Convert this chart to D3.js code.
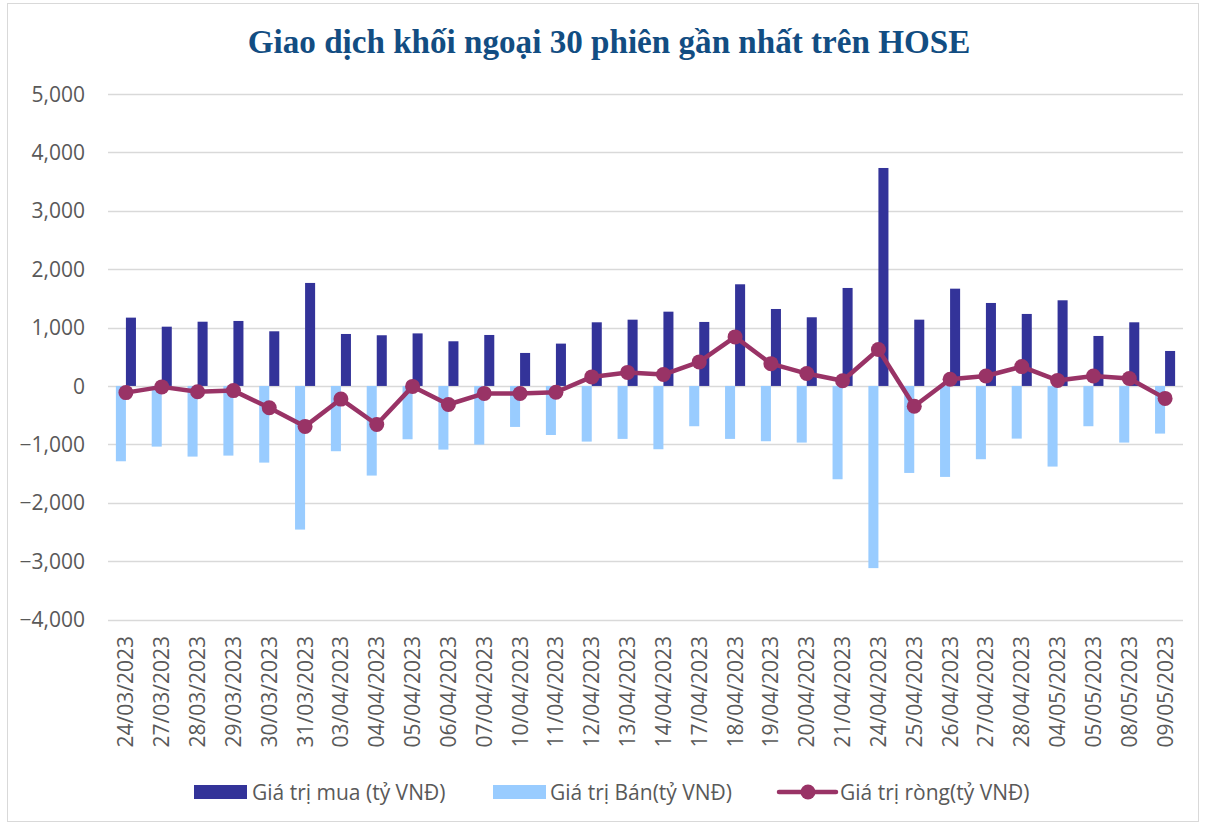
<!DOCTYPE html>
<html>
<head>
<meta charset="utf-8">
<script src="https://cdn.jsdelivr.net/npm/d3@7"></script>
<style>
  html, body { margin: 0; padding: 0; background: #ffffff; }
  svg { display: block; }
</style>
</head>
<body>
<svg id="chart" width="1205" height="825"></svg>
<script>
const titleText = "Giao dịch khối ngoại 30 phiên gần nhất trên HOSE";
const dates = ["24/03/2023","27/03/2023","28/03/2023","29/03/2023","30/03/2023","31/03/2023",
  "03/04/2023","04/04/2023","05/04/2023","06/04/2023","07/04/2023","10/04/2023","11/04/2023",
  "12/04/2023","13/04/2023","14/04/2023","17/04/2023","18/04/2023","19/04/2023","20/04/2023",
  "21/04/2023","24/04/2023","25/04/2023","26/04/2023","27/04/2023","28/04/2023","04/05/2023",
  "05/05/2023","08/05/2023","09/05/2023"];
const buyValues = [1170,1015,1100,1113,936,1764,890,868,900,765,873,565,725,1090,1135,
  1272,1096,1741,1318,1176,1678,3733,1135,1666,1421,1233,1467,856,1090,599];
const sellValues = [-1290,-1039,-1210,-1193,-1313,-2460,-1118,-1535,-913,-1090,-1005,-702,-840,-953,-907,
  -1084,-690,-907,-947,-970,-1598,-3120,-1490,-1558,-1255,-902,-1381,-690,-970,-816];
const netValues = [-114,-16,-100,-80,-374,-693,-225,-660,-8,-318,-128,-130,-108,155,232,
  195,412,840,382,212,88,625,-348,115,170,331,95,170,128,-213];
const yTicks = [-4000,-3000,-2000,-1000,0,1000,2000,3000,4000,5000];
const seriesNames = ["Giá trị mua (tỷ VNĐ)", "Giá trị Bán(tỷ VNĐ)", "Giá trị ròng(tỷ VNĐ)"];

const colBuy = "#333399", colSell = "#99CCFF", colNet = "#993366";
const textCol = "#595959", gridCol = "#d9d9d9";
const font = "'Open Sans', 'Liberation Sans', sans-serif";
const fs = 21;

const svg = d3.select("#chart");

// outer border
svg.append("rect").attr("x", 7.5).attr("y", 3.5).attr("width", 1191).attr("height", 818)
  .attr("fill", "#fff").attr("stroke", gridCol).attr("stroke-width", 1);

// title
const title = svg.append("text").attr("x", 609).attr("y", 53)
  .attr("text-anchor", "middle")
  .attr("font-family", "'Liberation Serif', 'DejaVu Serif', serif")
  .attr("font-weight", "bold").attr("font-size", 28)
  .attr("fill", "#124D82").text(titleText);
const tw = title.node().getComputedTextLength();
title.attr("font-size", 28 * 723 / tw);

const left = 108, right = 1183;
const x = d3.scaleBand().domain(dates).range([left, right]).paddingInner(0.44).paddingOuter(0.22);
const x1 = d3.scaleBand().domain(["sell", "buy"]).range([0, x.bandwidth()]);
const y = d3.scaleLinear().domain([-4000, 5000]).range([619.5, 94]);

// gridlines
svg.append("g").selectAll("line").data(yTicks).join("line")
  .attr("x1", left).attr("x2", right)
  .attr("y1", d => Math.round(y(d)) + 0.5).attr("y2", d => Math.round(y(d)) + 0.5)
  .attr("stroke", gridCol).attr("stroke-width", 1.3);

// y labels
svg.append("g").selectAll("text").data(yTicks).join("text")
  .attr("x", 85).attr("y", d => y(d)).attr("dy", "0.36em")
  .attr("text-anchor", "end").attr("font-family", font).attr("font-size", fs)
  .attr("fill", textCol).text(d => d3.format(",")(d));

// bars
svg.append("g").selectAll("rect").data(dates).join("rect")
  .attr("x", d => x(d) + x1("sell")).attr("width", x1.bandwidth())
  .attr("y", y(0)).attr("height", (d, i) => y(sellValues[i]) - y(0))
  .attr("fill", colSell);
svg.append("g").selectAll("rect").data(dates).join("rect")
  .attr("x", d => x(d) + x1("buy")).attr("width", x1.bandwidth())
  .attr("y", (d, i) => y(buyValues[i])).attr("height", (d, i) => y(0) - y(buyValues[i]))
  .attr("fill", colBuy);

// net line
const cx = d => x(d) + x.bandwidth() / 2;
const line = d3.line().x(d => cx(d.date)).y(d => y(d.v));
const netData = dates.map((d, i) => ({date: d, v: netValues[i]}));
svg.append("path").datum(netData).attr("d", line)
  .attr("fill", "none").attr("stroke", colNet).attr("stroke-width", 4.5).attr("stroke-linejoin", "round");
svg.append("g").selectAll("circle").data(netData).join("circle")
  .attr("cx", d => cx(d.date)).attr("cy", d => y(d.v)).attr("r", 7.5).attr("fill", colNet);

// x labels
svg.append("g").selectAll("text").data(dates).join("text")
  .attr("transform", d => `translate(${cx(d)},636) rotate(-90)`)
  .attr("dy", "0.36em").attr("text-anchor", "end")
  .attr("font-family", font).attr("font-size", fs).attr("fill", textCol).text(d => d);

// legend
const lg = svg.append("g").attr("font-family", font).attr("font-size", fs).attr("fill", textCol);
const ly = 792;
lg.append("rect").attr("x", 194).attr("y", ly - 7).attr("width", 53).attr("height", 14).attr("fill", colBuy);
lg.append("text").attr("x", 252).attr("y", ly).attr("dy", "0.36em").text(seriesNames[0]);
lg.append("rect").attr("x", 493).attr("y", ly - 7).attr("width", 53).attr("height", 14).attr("fill", colSell);
lg.append("text").attr("x", 550).attr("y", ly).attr("dy", "0.36em").text(seriesNames[1]);
lg.append("line").attr("x1", 779).attr("x2", 836).attr("y1", ly).attr("y2", ly)
  .attr("stroke", colNet).attr("stroke-width", 4.5).attr("stroke-linecap", "round");
lg.append("circle").attr("cx", 808).attr("cy", ly).attr("r", 7.5).attr("fill", colNet);
lg.append("text").attr("x", 840).attr("y", ly).attr("dy", "0.36em").text(seriesNames[2]);
</script>
</body>
</html>
